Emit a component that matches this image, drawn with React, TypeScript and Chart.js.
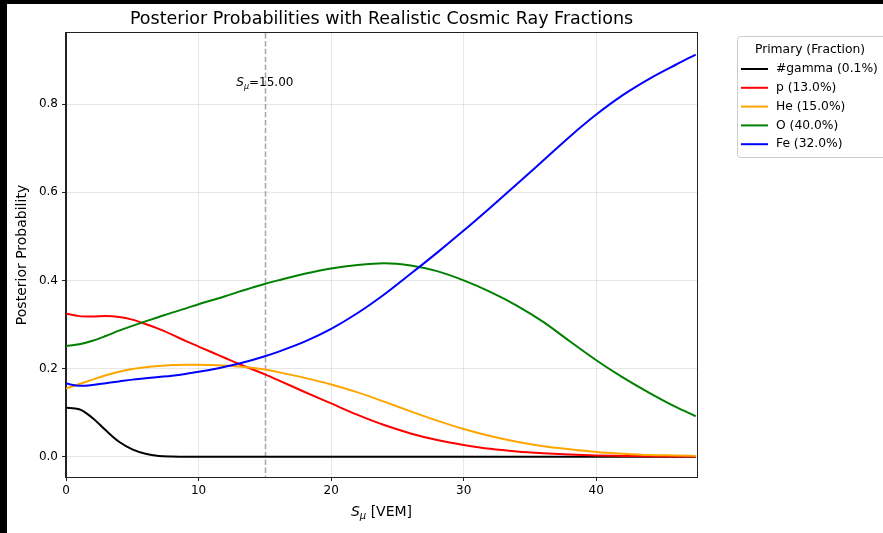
import React, { useEffect, useRef } from "react";
import { Chart, registerables } from "chart.js";
Chart.register(...registerables);

const xs = [0, 1, 2, 3, 4, 5, 6, 7, 8, 9, 10, 11, 12, 13, 14, 15, 16, 18, 20, 22, 24, 26, 28, 30, 32, 34, 36, 38, 40, 42, 44, 46, 47.5];

const gammaVals = [0.111, 0.108, 0.088, 0.06, 0.034, 0.017, 0.007, 0.002, 0.0005, 0, 0, 0, 0, 0, 0, 0, 0, 0, 0, 0, 0, 0, 0, 0, 0, 0, 0, 0, 0, 0, 0, 0, 0];
const pVals = [0.325, 0.319, 0.318, 0.319, 0.317, 0.311, 0.301, 0.29, 0.277, 0.263, 0.25, 0.237, 0.224, 0.211, 0.199, 0.187, 0.174, 0.147, 0.121, 0.095, 0.072, 0.053, 0.038, 0.027, 0.018, 0.012, 0.008, 0.005, 0.003, 0.002, 0.001, 0.0006, 0.0004];
const heVals = [0.155, 0.165, 0.175, 0.185, 0.193, 0.199, 0.203, 0.206, 0.208, 0.209, 0.209, 0.208, 0.207, 0.205, 0.202, 0.198, 0.192, 0.179, 0.164, 0.146, 0.125, 0.103, 0.082, 0.063, 0.047, 0.034, 0.024, 0.017, 0.011, 0.007, 0.004, 0.003, 0.002];
const oVals = [0.251, 0.255, 0.263, 0.274, 0.286, 0.297, 0.307, 0.317, 0.327, 0.336, 0.346, 0.355, 0.364, 0.374, 0.383, 0.392, 0.4, 0.415, 0.427, 0.435, 0.439, 0.434, 0.421, 0.4, 0.374, 0.343, 0.306, 0.262, 0.219, 0.18, 0.145, 0.113, 0.092];
const feVals = [0.166, 0.161, 0.163, 0.167, 0.171, 0.175, 0.178, 0.181, 0.184, 0.188, 0.193, 0.198, 0.204, 0.211, 0.219, 0.228, 0.238, 0.261, 0.29, 0.326, 0.368, 0.415, 0.463, 0.513, 0.565, 0.618, 0.672, 0.726, 0.776, 0.82, 0.857, 0.889, 0.912];

const seriesLabels = ["#gamma (0.1%)", "p (13.0%)", "He (15.0%)", "O (40.0%)", "Fe (32.0%)"];
const seriesColors = ["#000000", "#ff0000", "#ffa500", "#008000", "#0000ff"];
const seriesValues = [gammaVals, pVals, heVals, oVals, feVals];

const xTicks = [0, 10, 20, 30, 40];
const yTicks = [0, 0.2, 0.4, 0.6, 0.8];
const xMin = 0;
const xMax = 47.6;
const yMin = -0.0458;
const yMax = 0.961;
const cutValue = 15;
const cutLabelY = 0.847;

const titleText = "Posterior Probabilities with Realistic Cosmic Ray Fractions";
const legendTitle = "Primary (Fraction)";
const FONT = "'DejaVu Sans', sans-serif";

const decorPlugin = {
  id: "decor",
  beforeDatasetsDraw(chart: any) {
    const { ctx, chartArea, scales } = chart;
    const x = scales.x.getPixelForValue(cutValue);
    ctx.save();
    ctx.strokeStyle = "rgba(128,128,128,0.7)";
    ctx.lineWidth = 1.5;
    ctx.setLineDash([5.5, 2.4]);
    ctx.beginPath();
    ctx.moveTo(Math.round(x) + 0.5, chartArea.top);
    ctx.lineTo(Math.round(x) + 0.5, chartArea.bottom);
    ctx.stroke();
    ctx.restore();
  },
  afterDraw(chart: any) {
    const { ctx, chartArea, scales } = chart;
    ctx.save();
    ctx.strokeStyle = "#222";
    ctx.lineWidth = 1;
    ctx.strokeRect(Math.round(chartArea.left) - 0.5, Math.round(chartArea.top) - 0.5, Math.round(chartArea.right - chartArea.left) + 1, Math.round(chartArea.bottom - chartArea.top) + 1);

    const cx = (chartArea.left + chartArea.right) / 2;
    ctx.fillStyle = "#000";
    ctx.font = `17.5px ${FONT}`;
    ctx.textAlign = "center";
    ctx.textBaseline = "middle";
    ctx.fillText(titleText, cx, 15);

    ctx.save();
    ctx.translate(15, (chartArea.top + chartArea.bottom) / 2);
    ctx.rotate(-Math.PI / 2);
    ctx.font = `14px ${FONT}`;
    ctx.fillText("Posterior Probability", 0, 0);
    ctx.restore();

    const drawSmu = (centerX: number, y: number, size: number, rest: string) => {
      ctx.textAlign = "left";
      ctx.textBaseline = "middle";
      const fS = `italic ${size}px ${FONT}`;
      const fMu = `italic ${Math.round(size * 0.7)}px ${FONT}`;
      const fR = `${size}px ${FONT}`;
      ctx.font = fS;
      const wS = ctx.measureText("S").width;
      ctx.font = fMu;
      const wMu = ctx.measureText("μ").width;
      ctx.font = fR;
      const wR = ctx.measureText(rest).width;
      let x0 = centerX - (wS + wMu + wR) / 2;
      ctx.font = fS;
      ctx.fillText("S", x0, y);
      x0 += wS;
      ctx.font = fMu;
      ctx.fillText("μ", x0, y + size * 0.3);
      x0 += wMu;
      ctx.font = fR;
      ctx.fillText(rest, x0, y);
    };
    ctx.fillStyle = "#000";
    drawSmu(cx, 508, 14, " [VEM]");
    drawSmu(scales.x.getPixelForValue(cutValue), scales.y.getPixelForValue(cutLabelY), 12, "=15.00");

    const lx = 730;
    const ly = 32;
    const lw = 160;
    const lh = 121;
    ctx.fillStyle = "rgba(255,255,255,0.8)";
    ctx.strokeStyle = "#cccccc";
    ctx.lineWidth = 1;
    ctx.beginPath();
    (ctx as any).roundRect(lx + 0.5, ly + 0.5, lw, lh, 3);
    ctx.fill();
    ctx.stroke();
    ctx.fillStyle = "#000";
    ctx.font = `12.3px ${FONT}`;
    ctx.textAlign = "center";
    ctx.textBaseline = "middle";
    ctx.fillText(legendTitle, 803, 45.5);
    ctx.textAlign = "left";
    seriesLabels.forEach((lab, i) => {
      const yy = 65 + i * 18.8;
      ctx.strokeStyle = seriesColors[i];
      ctx.lineWidth = 2;
      ctx.beginPath();
      ctx.moveTo(734, yy);
      ctx.lineTo(761, yy);
      ctx.stroke();
      ctx.fillStyle = "#000";
      ctx.fillText(lab, 769, yy);
    });
    ctx.restore();
  },
};

export default function App() {
  const ref = useRef<HTMLCanvasElement>(null);
  useEffect(() => {
    document.body.style.margin = "0";
    document.body.style.background = "#000";
    const canvas = ref.current!;
    const datasets = seriesLabels.map((lab, i) => ({
      label: lab,
      data: xs.map((x, j) => ({ x, y: seriesValues[i][j] })),
      borderColor: seriesColors[i],
      backgroundColor: seriesColors[i],
      borderWidth: 2,
      pointRadius: 0,
      cubicInterpolationMode: "monotone" as const,
      fill: false,
    }));
    const chart = new Chart(canvas, {
      type: "line",
      data: { datasets: datasets.slice().reverse() as any },
      options: {
        animation: false,
        responsive: false,
        devicePixelRatio: 1,
        layout: { padding: { top: 29, right: 186, bottom: 0, left: 0 } },
        plugins: { legend: { display: false }, title: { display: false }, tooltip: { enabled: false } },
        scales: {
          x: {
            type: "linear",
            min: xMin,
            max: xMax,
            afterBuildTicks: (s: any) => { s.ticks = xTicks.map((v) => ({ value: v })); },
            afterFit: (s: any) => { s.height = 56; },
            grid: { color: "rgba(176,176,176,0.3)", tickColor: "#222", tickLength: 4, lineWidth: 1 },
            border: { display: true, color: "#222" },
            ticks: { color: "#000", font: { family: FONT, size: 12 }, padding: 3, maxRotation: 0, callback: (v: any) => String(v) },
          },
          y: {
            type: "linear",
            min: yMin,
            max: yMax,
            afterBuildTicks: (s: any) => { s.ticks = yTicks.map((v) => ({ value: v })); },
            afterFit: (s: any) => { s.width = 59; },
            grid: { color: "rgba(176,176,176,0.3)", tickColor: "#222", tickLength: 4, lineWidth: 1 },
            border: { display: true, color: "#222" },
            ticks: { color: "#000", font: { family: FONT, size: 12 }, padding: 4, callback: (v: any) => Number(v).toFixed(1) },
          },
        },
      },
      plugins: [decorPlugin],
    });
    return () => chart.destroy();
  }, []);
  return (
    <div style={{ position: "absolute", left: 7, top: 4, width: 876, height: 529, background: "#fff", overflow: "hidden" }}>
      <canvas ref={ref} width={876} height={529} style={{ display: "block" }} />
    </div>
  );
}
